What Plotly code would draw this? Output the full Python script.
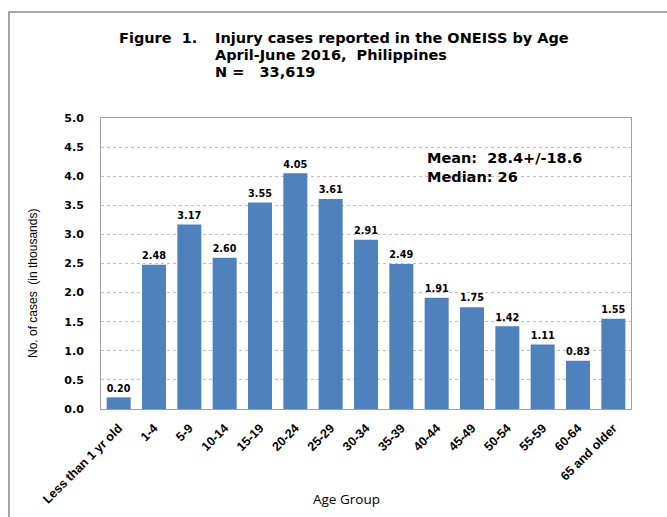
import plotly.graph_objects as go

categories = ["Less than 1 yr old", "1-4", "5-9", "10-14", "15-19", "20-24", "25-29",
              "30-34", "35-39", "40-44", "45-49", "50-54", "55-59", "60-64", "65 and older"]
values = [0.20, 2.48, 3.17, 2.60, 3.55, 4.05, 3.61, 2.91, 2.49, 1.91, 1.75, 1.42, 1.11, 0.83, 1.55]
labels = [f"{v:.2f}" for v in values]
yticks = [0.0, 0.5, 1.0, 1.5, 2.0, 2.5, 3.0, 3.5, 4.0, 4.5, 5.0]

W, H = 667, 517
L, R, T, B = 101, 631, 118, 409

def px(x):
    return (x - L) / (R - L)

def py(y):
    return (B - y) / (B - T)

fig = go.Figure(go.Bar(
    x=categories, y=values, text=labels, textposition="outside",
    textfont=dict(family="DejaVu Sans", size=11, color="black", weight="bold"),
    marker=dict(color="#4F81BD", line=dict(width=0)),
    cliponaxis=False,
))

title_font = dict(family="DejaVu Sans", size=14.5, color="black", weight="bold")
ann = [
    ("Figure  1.", 117, 38),
    ("Injury cases reported in the ONEISS by Age", 213, 38),
    ("April-June 2016,  Philippines", 213, 55),
    ("N =   33,619", 213, 72),
]
annotations = []
for text, x, y in ann:
    annotations.append(dict(text=text, x=px(x), y=py(y), xref="paper", yref="paper",
                            xanchor="left", yanchor="middle", showarrow=False, font=title_font))
stat_font = dict(family="DejaVu Sans", size=14.5, color="black", weight="bold")
annotations.append(dict(text="Mean:  28.4+/-18.6", x=px(425), y=py(158), xref="paper", yref="paper",
                        xanchor="left", yanchor="middle", showarrow=False, font=stat_font))
annotations.append(dict(text="Median: 26", x=px(425), y=py(177), xref="paper", yref="paper",
                        xanchor="left", yanchor="middle", showarrow=False, font=stat_font))
annotations.append(dict(text="No. of cases  (in thousands)", x=px(33), y=py(284), xref="paper", yref="paper",
                        xanchor="center", yanchor="middle", showarrow=False, textangle=-90,
                        font=dict(family="Liberation Sans", size=12, color="black")))
annotations.append(dict(text="Age Group", x=px(346), y=py(499), xref="paper", yref="paper",
                        xanchor="center", yanchor="middle", showarrow=False,
                        font=dict(family="Open Sans", size=13.5, color="black")))

fig.update_layout(
    width=W, height=H,
    margin=dict(l=L, r=W - R, t=T, b=H - B),
    paper_bgcolor="white", plot_bgcolor="white",
    bargap=0.32,
    showlegend=False,
    annotations=annotations,
    shapes=[dict(type="rect", xref="paper", yref="paper",
                 x0=px(9), y0=py(560), x1=px(720), y1=py(12),
                 line=dict(color="#A6A6A6", width=2), fillcolor="rgba(0,0,0,0)", layer="below")],
)
fig.update_xaxes(
    tickangle=-45, showline=True, linecolor="#A0A0A0", linewidth=1, mirror=True,
    tickfont=dict(family="Liberation Sans", size=12.5, color="black", weight="bold"),
    ticks="", showgrid=False, ticklabelstandoff=6,
)
fig.update_yaxes(
    range=[0, 5.0], tickvals=yticks, ticktext=[f"{v:.1f}" for v in yticks],
    tickfont=dict(family="DejaVu Sans", size=11, color="black", weight="bold"),
    showgrid=True, gridcolor="#BFBFBF", griddash="dot", gridwidth=1,
    showline=True, linecolor="#A0A0A0", linewidth=1, mirror=True,
    ticks="", ticklabelstandoff=14, zeroline=False,
)

fig.write_html("out.html", config={"displayModeBar": False},
               post_script="document.body.style.margin='0';document.body.style.overflow='hidden';")
